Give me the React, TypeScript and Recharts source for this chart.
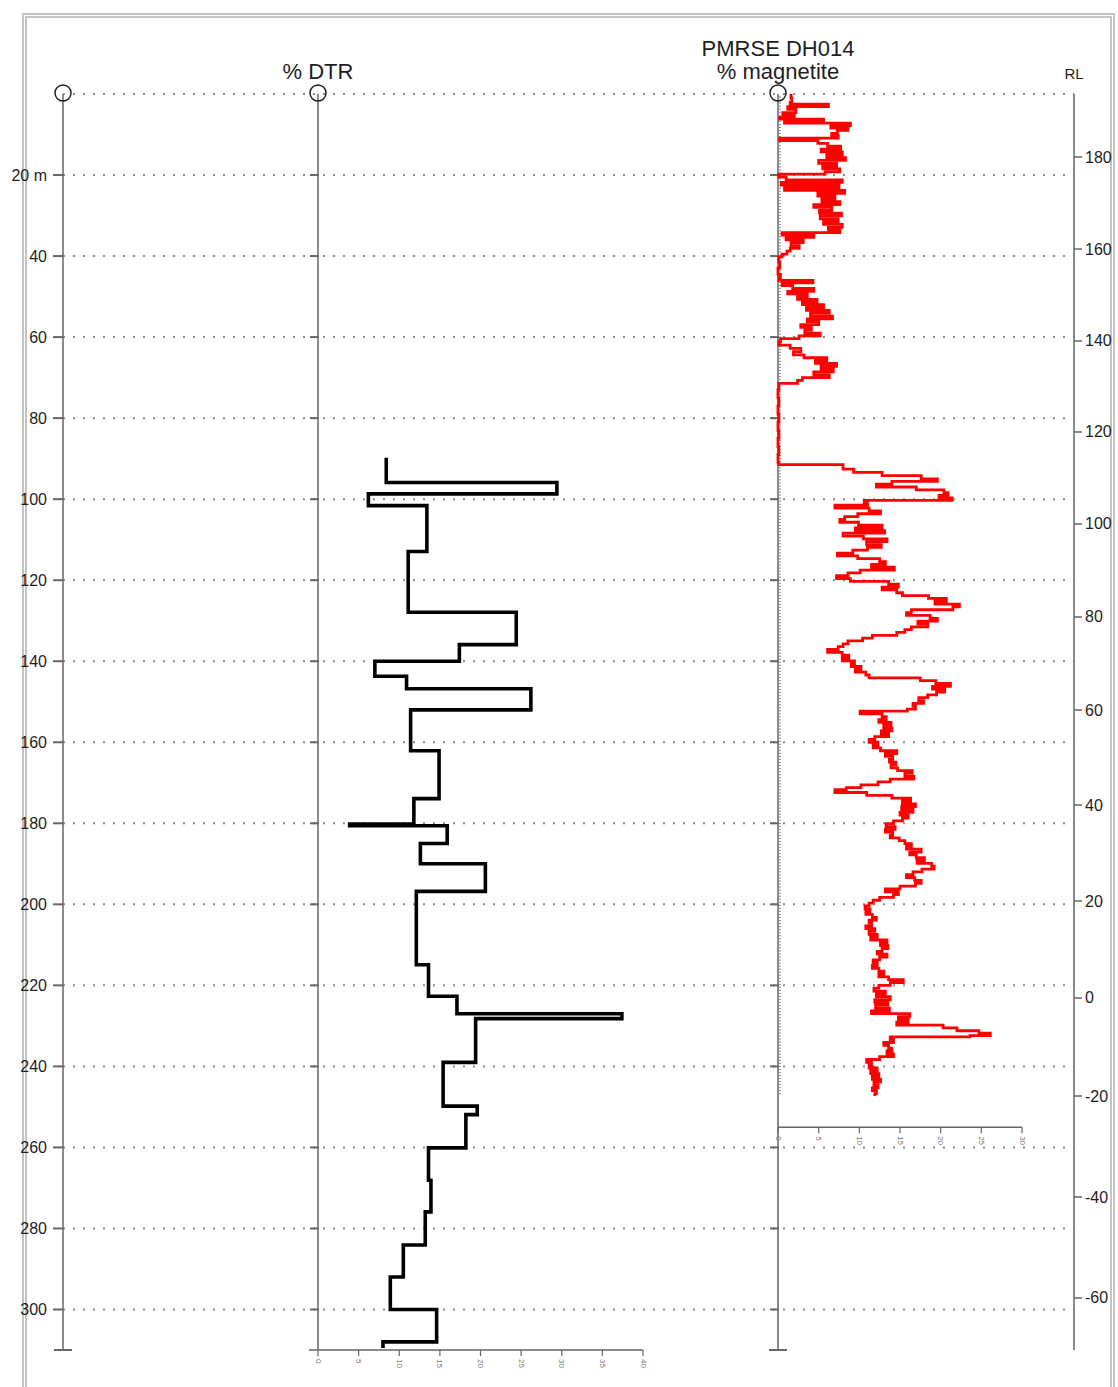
import { ComposedChart, Line, XAxis, YAxis, CartesianGrid, ReferenceLine } from "recharts";

const FONT = "'Liberation Sans', Arial, Helvetica, sans-serif";
const INK = "#1e1e1e";
const AXIS = "#666666";

// depth down hole (m)
const DEPTH_MAX = 310;
const gridDepths = [0, 20, 40, 60, 80, 100, 120, 140, 160, 180, 200, 220, 240, 260, 280, 300];
const depthTicks = [...gridDepths, DEPTH_MAX];

// RL labels and the hole depth they sit at
const rlLabels = [180, 160, 140, 120, 100, 80, 60, 40, 20, 0, -20, -40, -60];
const rlDepths = [15.55, 38.26, 60.96, 83.42, 106.13, 129.08, 152.04, 175.49, 199.18, 223.12, 247.31, 272.24, 297.16];

// track scales
const DTR_MAX = 40;
const dtrTicks = [0, 5, 10, 15, 20, 25, 30, 35, 40];
const MAG_MAX = 30;
const magTicks = [0, 5, 10, 15, 20, 25, 30];
const MAG_AXIS_DEPTH = 255;

// % DTR, constant over each interval
const dtrBreaks = [
  89.8, 95.9, 98.7, 101.6, 112.9, 127.9, 135.9, 140.0, 143.7, 146.8,
  152.0, 162.1, 173.9, 180.2, 180.6, 185.0, 190.0, 196.8, 214.9, 222.7,
  227.0, 228.2, 239.0, 249.8, 251.9, 260.1, 268.1, 275.9, 284.1, 292.0,
  300.0, 308.0, 309.5,
];
const dtrValues = [
  8.4, 29.4, 6.2, 13.4, 11.1, 24.4, 17.4, 7.0, 10.9, 26.2,
  11.4, 14.9, 11.8, 3.9, 15.9, 12.6, 20.6, 12.1, 13.6, 17.1,
  37.4, 19.4, 15.4, 19.6, 18.2, 13.6, 13.9, 13.2, 10.5, 8.9,
  14.6, 8.0,
];

// % magnetite samples (depth m, value)
const magDepths = [
  0.0, 1.0, 2.0, 2.5, 3.1, 3.8, 4.6, 5.3, 5.8, 6.2,
  6.7, 7.2, 7.8, 8.4, 9.0, 9.7, 10.3, 10.9, 11.5, 12.2,
  12.9, 13.6, 14.3, 15.0, 15.7, 16.4, 17.1, 17.8, 18.5, 19.2,
  19.8, 20.5, 21.2, 21.8, 22.5, 23.1, 23.8, 24.5, 25.2, 25.9,
  26.6, 27.3, 28.0, 28.7, 29.4, 30.1, 30.8, 31.5, 32.2, 32.9,
  33.5, 34.2, 34.8, 35.4, 36.0, 36.7, 37.4, 38.1, 38.8, 39.5,
  40.2, 41.5, 43.0, 44.5, 45.3, 46.0, 46.6, 47.3, 48.0, 48.7,
  49.3, 50.0, 50.7, 51.4, 52.0, 52.7, 53.4, 54.1, 54.8, 55.5,
  56.2, 56.9, 57.6, 58.3, 59.0, 59.7, 60.4, 61.2, 62.0, 62.8,
  63.6, 64.4, 65.1, 65.8, 66.5, 67.2, 67.9, 68.6, 69.3, 70.0,
  70.7, 71.4, 73.0, 75.0, 77.0, 79.0, 81.0, 83.0, 85.0, 87.0,
  89.0, 91.0, 91.5, 92.6, 93.4, 94.2, 95.0, 95.6, 96.3, 97.0,
  97.7, 98.4, 99.1, 99.7, 100.3, 100.9, 101.5, 102.2, 102.9, 103.6,
  104.3, 105.0, 105.7, 106.4, 107.1, 107.8, 108.4, 109.1, 109.8, 110.5,
  111.2, 111.9, 112.6, 113.3, 114.0, 114.7, 115.4, 116.1, 116.8, 117.5,
  118.2, 118.9, 119.6, 120.3, 121.0, 121.7, 122.4, 123.1, 123.8, 124.5,
  125.2, 125.9, 126.6, 127.3, 128.0, 128.7, 129.4, 130.1, 130.8, 131.5,
  132.2, 132.9, 133.6, 134.3, 135.0, 135.7, 136.4, 137.1, 137.8, 138.5,
  139.2, 139.9, 140.6, 141.3, 142.0, 142.7, 143.4, 144.1, 144.8, 145.5,
  146.2, 146.9, 147.6, 148.3, 149.0, 149.7, 150.4, 151.1, 151.8, 152.3,
  153.0, 153.7, 154.4, 155.1, 155.8, 156.5, 157.2, 157.9, 158.6, 159.3,
  160.0, 160.7, 161.4, 162.1, 162.8, 163.5, 164.2, 164.9, 165.6, 166.3,
  167.0, 167.7, 168.4, 169.1, 169.8, 170.5, 171.2, 171.7, 172.4, 173.1,
  173.8, 174.5, 175.2, 175.9, 176.6, 177.3, 178.0, 178.7, 179.4, 180.1,
  180.8, 181.5, 182.2, 182.9, 183.6, 184.3, 185.0, 185.7, 186.4, 187.1,
  187.8, 188.5, 189.2, 189.9, 190.6, 191.3, 192.0, 192.7, 193.4, 194.1,
  194.8, 195.5, 196.2, 196.9, 197.6, 198.3, 199.0, 199.7, 200.4, 201.1,
  201.8, 202.5, 203.2, 203.9, 204.6, 205.3, 206.0, 206.7, 207.4, 208.1,
  208.8, 209.5, 210.2, 210.9, 211.6, 212.3, 213.0, 213.7, 214.4, 215.1,
  215.8, 216.5, 217.2, 217.9, 218.6, 219.3, 220.0, 220.7, 221.4, 222.1,
  222.8, 223.5, 224.2, 224.9, 225.6, 226.3, 227.0, 227.7, 228.4, 229.1,
  229.8, 230.5, 231.2, 231.8, 232.4, 232.7, 233.4, 234.1, 234.8, 235.5,
  236.2, 236.9, 237.6, 238.3, 239.0, 239.7, 240.4, 241.1, 241.8, 242.5,
  243.2, 243.9, 244.6, 245.3, 246.0, 246.7,
];
const magPct = [
  1.6, 1.7, 1.5, 6.2, 1.2, 2.2, 0.6, 2.0, 0.2, 5.6,
  0.8, 8.9, 6.5, 8.6, 7.3, 6.6, 7.4, 0.2, 4.9, 6.1,
  7.7, 5.3, 7.9, 6.0, 8.3, 5.0, 7.2, 5.5, 7.6, 5.8,
  0.1, 1.0, 7.9, 0.4, 7.5, 0.8, 8.2, 4.9, 7.0, 5.4,
  7.6, 4.4, 6.6, 5.1, 7.8, 5.2, 7.4, 5.6, 7.9, 6.2,
  7.6, 0.5, 4.4, 1.0, 3.1, 1.6, 2.6, 1.5, 1.1, 0.5,
  0.1, 0.2, 0.0, 0.3, 0.1, 4.3, 0.5, 1.8, 4.4, 1.2,
  3.6, 2.4, 4.8, 3.0, 5.6, 3.5, 6.3, 4.0, 6.7, 3.6,
  5.0, 2.8, 4.1, 3.3, 5.2, 2.6, 0.3, 0.1, 1.5, 2.8,
  1.9, 3.2, 6.0, 4.6, 7.2, 5.3, 6.8, 4.4, 6.3, 3.0,
  2.4, 0.1, 0.0, 0.1, 0.0, 0.1, 0.0, 0.1, 0.0, 0.1,
  0.0, 0.1, 8.0, 9.3, 12.8, 17.6, 19.6, 14.0, 12.1, 17.0,
  20.4, 20.9, 19.8, 21.4, 10.6, 11.0, 7.0, 11.2, 12.6, 9.8,
  8.2, 7.6, 9.9, 12.8, 9.5, 13.1, 8.0, 10.5, 13.4, 10.9,
  12.7, 11.0, 9.2, 7.3, 9.8, 12.5, 13.2, 11.5, 14.3, 10.1,
  8.6, 7.2, 8.9, 13.6, 14.8, 12.8, 14.6, 15.3, 18.5, 20.7,
  19.3, 22.3, 21.5, 16.4, 15.8, 18.7, 19.6, 17.2, 18.4, 16.4,
  15.6, 14.6, 11.6, 10.4, 8.6, 8.0, 7.4, 6.1, 7.9, 8.7,
  7.9, 9.4, 9.0, 10.2, 9.5, 10.8, 11.2, 17.5, 19.4, 21.2,
  19.0, 20.5, 19.5, 18.4, 17.3, 17.9, 16.6, 16.9, 15.9, 10.1,
  12.8, 13.3, 12.4, 13.9, 13.0, 14.0, 12.7, 13.6, 11.9, 11.2,
  12.3, 11.7, 12.6, 14.6, 13.2, 14.1, 13.7, 14.5, 13.9, 14.7,
  16.5, 15.6, 16.7, 13.8, 12.3, 10.2, 8.4, 7.0, 10.9, 14.0,
  16.3, 15.3, 16.9, 15.2, 16.6, 15.0, 16.0, 15.3, 14.2, 13.3,
  14.4, 13.2, 14.1, 13.8, 14.9, 15.6, 16.4, 15.8, 17.6, 16.2,
  17.0, 18.0, 17.1, 18.9, 19.2, 17.7, 16.6, 15.8, 16.8, 17.6,
  16.9, 15.0, 13.2, 14.8, 14.2, 12.5, 11.7, 11.2, 10.7, 11.3,
  10.8, 11.6, 12.1, 11.2, 11.5, 10.8, 11.9, 11.2, 12.2, 11.4,
  13.4, 12.6, 13.5, 12.8, 12.2, 13.4, 12.5, 11.7, 12.2, 11.6,
  12.4, 13.0, 12.4, 13.6, 15.4, 13.8, 12.4, 11.8, 13.2, 12.1,
  13.8, 11.9, 13.5, 12.0, 13.7, 11.5, 16.2, 14.8, 16.0, 14.6,
  20.3, 22.0, 24.7, 26.1, 23.6, 13.8, 14.2, 13.0, 13.6, 14.0,
  13.4, 14.2, 12.5, 10.9, 11.5, 11.2, 12.2, 11.4, 12.4, 11.6,
  12.6, 11.8, 12.3, 11.6, 12.1, 11.9,
];
const MAG_END = 247.3;

// step-shaped point lists (value held down to next sample)
const dtrPoints = dtrValues.flatMap((v, i) => [
  { depth: dtrBreaks[i], v },
  { depth: dtrBreaks[i + 1], v },
]);
const magPoints = magPct.flatMap((v, i) => [
  { depth: magDepths[i], v },
  { depth: i + 1 < magDepths.length ? magDepths[i + 1] : MAG_END, v },
]);
// rows for the RL scale (no series, only ticks)
const rlRows = rlDepths.map((depth, i) => ({ depth, rl: rlLabels[i] }));

// page layout, px
const W = 1118;
const H = 1387;
const PLOT_LEFT = 63;
const PLOT_RIGHT = 1074;
const PLOT_TOP = 94;
const PLOT_BOTTOM = 1350;
const DEPTH_AXIS_W = 50;
const RL_AXIS_W = 44;

// each track sits at its own place across the shared depth plot
function trackDomain(left: number, right: number, max: number): [number, number] {
  const k = (right - left) / max;
  return [(PLOT_LEFT - left) / k, (PLOT_RIGHT - left) / k];
}
const dtrDomain = trackDomain(318, 643, DTR_MAX);
const magDomain = trackDomain(778, 1022, MAG_MAX);

function DepthTick({ x, y, payload }: any) {
  const d = payload.value;
  if (d === 0) return <circle cx={x} cy={y - 1} r={8} fill="none" stroke={INK} strokeWidth={1.5} />;
  if (d === DEPTH_MAX) return <line x1={x - 9} x2={x + 9} y1={y} y2={y} stroke={AXIS} strokeWidth={2} />;
  return (
    <g>
      <line x1={x - 10} x2={x} y1={y} y2={y} stroke={AXIS} strokeWidth={2} />
      <text x={x - 16} y={y} dy={5.5} textAnchor="end" fontSize={16} fill={INK} fontFamily={FONT}>
        {d === 20 ? "20 m" : d}
      </text>
    </g>
  );
}

function RlTick({ x, y, payload }: any) {
  const i = rlDepths.indexOf(payload.value);
  return (
    <g>
      <line x1={x} x2={x + 8} y1={y} y2={y} stroke={AXIS} strokeWidth={1.5} />
      <text x={x + 11} y={y} dy={5.5} fontSize={16} fill={INK} fontFamily={FONT}>
        {rlLabels[i]}
      </text>
    </g>
  );
}

// vertical axis of a track, drawn along a reference segment from depth 0 to the hole end
const trackAxis = (minor: boolean) => (p: any) => {
  const { x1, y1, y2 } = p;
  const k = (y2 - y1) / DEPTH_MAX;
  const minorTicks: number[] = [];
  if (minor) for (let d = 0.75; d <= MAG_END; d += 0.75) minorTicks.push(d);
  return (
    <g>
      <line x1={x1} x2={x1} y1={y1} y2={y2} stroke={AXIS} strokeWidth={1.5} />
      {minorTicks.map((d) => (
        <line key={"m" + d} x1={x1} x2={x1 + 3} y1={y1 + d * k} y2={y1 + d * k} stroke="#8a8a8a" strokeWidth={1} />
      ))}
      {gridDepths.slice(1).map((d) => (
        <line key={d} x1={x1 - 8} x2={x1 + 1} y1={y1 + d * k} y2={y1 + d * k} stroke={AXIS} strokeWidth={2} />
      ))}
      <circle cx={x1} cy={y1 - 1} r={8} fill="none" stroke={INK} strokeWidth={1.5} />
      {minor && <line x1={x1 - 9} x2={x1 + 9} y1={y2} y2={y2} stroke={AXIS} strokeWidth={2} />}
    </g>
  );
};

// horizontal value scale of a track with rotated labels
const scaleBar = (ticks: number[], max: number, stub: number) => (p: any) => {
  const { x1, x2, y1 } = p;
  const k = (x2 - x1) / max;
  return (
    <g>
      <line x1={x1 - stub} x2={x2} y1={y1} y2={y1} stroke={AXIS} strokeWidth={1.5} />
      {ticks.map((t) => {
        const x = x1 + t * k;
        return (
          <g key={t}>
            <line x1={x} x2={x} y1={y1} y2={y1 + 6} stroke={AXIS} strokeWidth={1.2} />
            <text
              transform={`translate(${x},${y1 + 9}) rotate(90)`}
              fontSize={8}
              fill="#777"
              fontFamily={FONT}
              dominantBaseline="central"
            >
              {t}
            </text>
          </g>
        );
      })}
    </g>
  );
};

const title = (cx: number, top: number, size: number): React.CSSProperties => ({
  position: "absolute",
  left: cx - 150,
  width: 300,
  top,
  textAlign: "center",
  fontSize: size,
  lineHeight: `${size + 4}px`,
  whiteSpace: "nowrap",
});

export default function App() {
  return (
    <div
      style={{
        position: "absolute",
        left: 0,
        top: 0,
        width: W,
        height: H,
        overflow: "hidden",
        background: "#fff",
        fontFamily: FONT,
        color: INK,
      }}
    >
      <div
        style={{
          position: "absolute",
          left: 22,
          top: 13,
          width: 1093,
          height: H - 13,
          boxSizing: "border-box",
          border: "5px double #c4c4c4",
          borderBottom: "none",
        }}
      />
      <div style={{ position: "absolute", left: 0, top: 0 }}>
        <ComposedChart
          width={W}
          height={H}
          layout="vertical"
          data={rlRows}
          margin={{
            top: PLOT_TOP,
            bottom: H - PLOT_BOTTOM,
            left: PLOT_LEFT - DEPTH_AXIS_W,
            right: W - PLOT_RIGHT - RL_AXIS_W,
          }}
        >
          <CartesianGrid
            xAxisId="dtr"
            yAxisId="depth"
            vertical={false}
            horizontalValues={gridDepths}
            stroke="#8c8c8c"
            strokeWidth={2}
            strokeDasharray="2 8"
          />
          <XAxis xAxisId="dtr" type="number" domain={dtrDomain} allowDataOverflow hide height={0} />
          <XAxis xAxisId="mag" type="number" domain={magDomain} allowDataOverflow hide height={0} />
          <YAxis
            yAxisId="depth"
            dataKey="depth"
            type="number"
            orientation="left"
            width={DEPTH_AXIS_W}
            domain={[0, DEPTH_MAX]}
            allowDataOverflow
            ticks={depthTicks}
            interval={0}
            tickSize={0}
            tickMargin={0}
            tickLine={false}
            axisLine={{ stroke: AXIS, strokeWidth: 1.5 }}
            tick={DepthTick}
          />
          <YAxis
            yAxisId="rl"
            dataKey="depth"
            type="number"
            orientation="right"
            width={RL_AXIS_W}
            domain={[0, DEPTH_MAX]}
            allowDataOverflow
            ticks={rlDepths}
            interval={0}
            tickSize={0}
            tickMargin={0}
            tickLine={false}
            axisLine={{ stroke: AXIS, strokeWidth: 1.5 }}
            tick={RlTick}
          />
          <ReferenceLine
            xAxisId="dtr"
            yAxisId="depth"
            segment={[{ x: 0, y: 0 }, { x: 0, y: DEPTH_MAX }]}
            shape={trackAxis(false)}
          />
          <ReferenceLine
            xAxisId="mag"
            yAxisId="depth"
            segment={[{ x: 0, y: 0 }, { x: 0, y: DEPTH_MAX }]}
            shape={trackAxis(true)}
          />
          <ReferenceLine
            xAxisId="dtr"
            yAxisId="depth"
            segment={[{ x: 0, y: DEPTH_MAX }, { x: DTR_MAX, y: DEPTH_MAX }]}
            shape={scaleBar(dtrTicks, DTR_MAX, 9)}
          />
          <ReferenceLine
            xAxisId="mag"
            yAxisId="depth"
            segment={[{ x: 0, y: MAG_AXIS_DEPTH }, { x: MAG_MAX, y: MAG_AXIS_DEPTH }]}
            shape={scaleBar(magTicks, MAG_MAX, 0)}
          />
          <Line
            data={dtrPoints}
            dataKey="v"
            xAxisId="dtr"
            yAxisId="depth"
            stroke="#000"
            strokeWidth={3.6}
            dot={false}
            activeDot={false}
            isAnimationActive={false}
          />
          <Line
            data={magPoints}
            dataKey="v"
            xAxisId="mag"
            yAxisId="depth"
            stroke="#ff0000"
            strokeWidth={2.8}
            dot={false}
            activeDot={false}
            isAnimationActive={false}
          />
        </ComposedChart>
      </div>
      <div style={title(318, 58.5, 22)}>% DTR</div>
      <div style={title(778, 35.5, 22)}>PMRSE DH014</div>
      <div style={title(778, 58.5, 22)}>% magnetite</div>
      <div style={title(1074, 63.5, 15)}>RL</div>
    </div>
  );
}
